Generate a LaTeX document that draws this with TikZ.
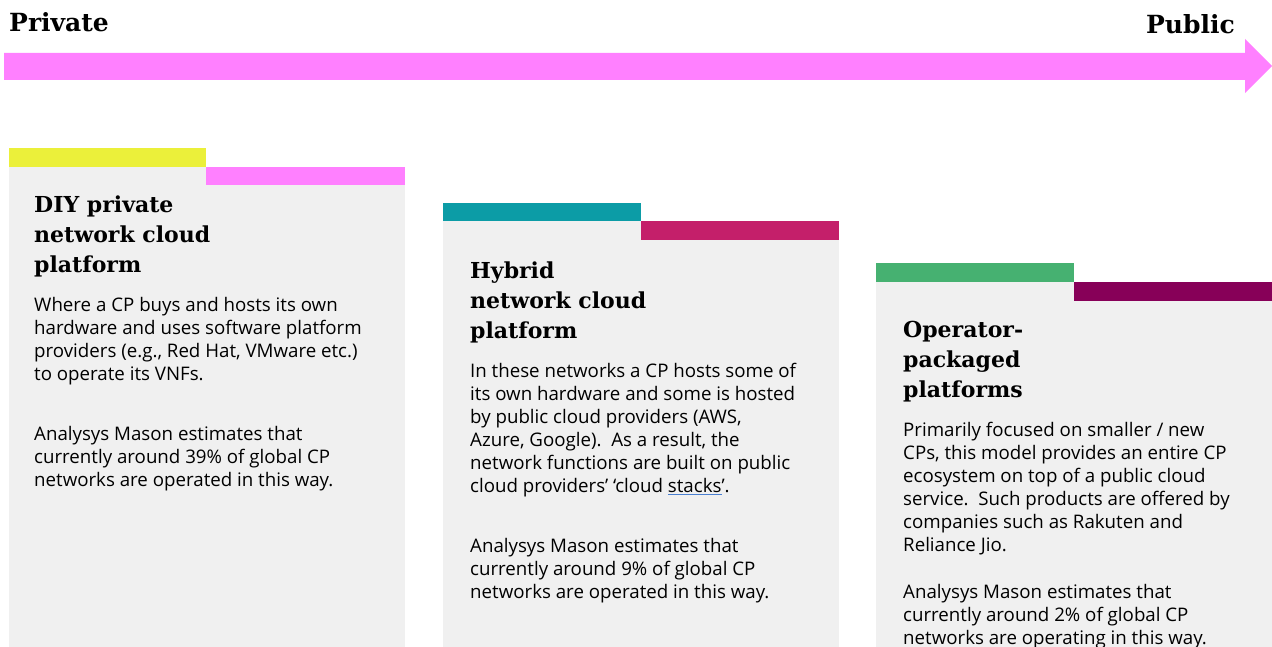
\documentclass[tikz,border=0pt]{standalone}
\usepackage{fontspec}
\setmainfont{Open Sans}
\newfontfamily\headfont{DejaVu Serif}
\definecolor{arrowpink}{HTML}{FF80FF}
\definecolor{cardgray}{HTML}{F0F0F0}
\definecolor{diyyellow}{HTML}{EBF03A}
\definecolor{hybridteal}{HTML}{0C9CA6}
\definecolor{hybridred}{HTML}{C41F6A}
\definecolor{opgreen}{HTML}{46B171}
\definecolor{oppurple}{HTML}{870058}
\definecolor{spellblue}{HTML}{4A7FD0}

\begin{document}
\begin{tikzpicture}[x=1pt,y=-1pt,
  side/.style={inner sep=0,font=\headfont\bfseries\fontsize{25}{30}\selectfont},
  % text blocks are placed by the baseline of their first line
  head/.style={anchor=north west,yshift=17pt,inner sep=0,align=left,
    execute at begin node=\strut,font=\headfont\bfseries\fontsize{22}{30}\selectfont},
  body/.style={anchor=north west,yshift=13pt,inner sep=0,align=left,
    execute at begin node=\strut,font=\fontsize{18.7}{23}\selectfont}]
\useasboundingbox (0,0) rectangle (1272,647);

% private -> public arrow
\node[side,anchor=base west] (private) at (9,32) {Private};
\node[side,anchor=base east] (public) at (1235,34) {Public};
\fill[arrowpink] (4,53) -- (1245,53) -- (1245,39) -- (1272,66) -- (1245,93) -- (1245,80) -- (4,80) -- cycle;

% DIY card
\fill[cardgray] (9,167) rectangle (405,647);
\fill[diyyellow] (9,148) rectangle (206,167);
\fill[arrowpink] (206,167) rectangle (405,185);
\node[head] (diy-title) at (34,213) {DIY private\\network cloud\\platform};
\node[body] (diy-text) at (34,310) {Where a CP buys and hosts its own\\hardware and uses software platform\\providers (e.g., Red Hat, VMware etc.)\\to operate its VNFs.};
\node[body] (diy-note) at (34,439) {Analysys Mason estimates that\\currently around 39\% of global CP\\networks are operated in this way.};

% hybrid card
\fill[cardgray] (443,221) rectangle (839,647);
\fill[hybridteal] (443,203) rectangle (641,221);
\fill[hybridred] (641,221) rectangle (839,240);
\node[head] (hybrid-title) at (470,279) {Hybrid\\network cloud\\platform};
\node[body] (hybrid-text) at (470,376) {In these networks a CP hosts some of\\its own hardware and some is hosted\\by public cloud providers (AWS,\\Azure, Google).\ \ As a result, the\\network functions are built on public\\cloud providers’ ‘cloud {\color{spellblue}\underline{\color{black}stacks}}’.};
\node[body] (hybrid-note) at (470,551) {Analysys Mason estimates that\\currently around 9\% of global CP\\networks are operated in this way.};

% operator card
\fill[cardgray] (876,282) rectangle (1272,647);
\fill[opgreen] (876,263) rectangle (1074,282);
\fill[oppurple] (1074,282) rectangle (1272,301);
\node[head] (op-title) at (903,338) {Operator-\\packaged\\platforms};
\node[body] (op-text) at (903,435) {Primarily focused on smaller / new\\CPs, this model provides an entire CP\\ecosystem on top of a public cloud\\service.\ \ Such products are offered by\\companies such as Rakuten and\\Reliance Jio.};
\node[body] (op-note) at (903,597) {Analysys Mason estimates that\\currently around 2\% of global CP\\networks are operating in this way.};
\end{tikzpicture}
\end{document}
